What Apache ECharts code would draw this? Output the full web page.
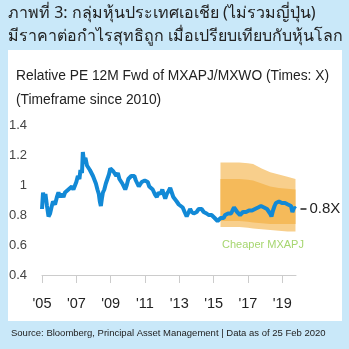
<!DOCTYPE html>
<html><head><meta charset="utf-8">
<script src="https://cdn.jsdelivr.net/npm/echarts@6/dist/echarts.min.js"></script>
<style>html,body{margin:0;padding:0;background:#c9e8f9;}#c{width:349px;height:349px;}</style>
</head><body><div id="c"></div>
<script>
const titleLines = ['ภาพที่ 3: กลุ่มหุ้นประเทศเอเชีย (ไม่รวมญี่ปุ่น)', 'มีราคาต่อกำไรสุทธิถูก เมื่อเปรียบเทียบกับหุ้นโลก'];
const subtitle1 = 'Relative PE 12M Fwd of MXAPJ/MXWO (Times: X)';
const subtitle2 = '(Timeframe since 2010)';
const sourceText = 'Source: Bloomberg, Principal Asset Management | Data as of 25 Feb 2020';
const yTicks = [0.4, 0.6, 0.8, 1.0, 1.2, 1.4];
const xTickYears = [2005, 2007, 2009, 2011, 2013, 2015, 2017, 2019];
const lastLabel = '0.8X';
const bandNote = 'Cheaper MXAPJ';

const years = [2005.0,2005.06,2005.12,2005.2,2005.29,2005.38,2005.47,2005.55,2005.64,2005.76,2005.87,2005.96,
2006.05,2006.16,2006.25,2006.34,2006.45,2006.54,2006.63,2006.74,2006.83,2006.92,
2007.0,2007.09,2007.18,2007.24,2007.33,2007.38,2007.44,2007.53,2007.62,2007.7,2007.79,2007.88,2007.97,
2008.05,2008.14,2008.23,2008.31,2008.37,2008.43,2008.49,2008.55,2008.63,2008.72,2008.81,2008.9,2008.98,
2009.07,2009.16,2009.24,2009.33,2009.42,2009.51,2009.59,2009.68,2009.77,2009.85,2009.94,
2010.03,2010.12,2010.2,2010.29,2010.38,2010.47,2010.55,2010.64,2010.73,2010.81,2010.9,2010.99,
2011.08,2011.16,2011.25,2011.34,2011.45,2011.57,2011.69,2011.8,2011.92,
2012.01,2012.09,2012.18,2012.27,2012.38,2012.47,2012.56,2012.65,2012.73,2012.85,2012.97,
2013.08,2013.2,2013.31,2013.43,2013.55,2013.63,2013.72,2013.84,2013.92,
2014.01,2014.13,2014.22,2014.3,2014.42,2014.51,2014.59,2014.71,2014.8,2014.88,2014.97,
2015.06,2015.15,2015.23,2015.32,2015.41,2015.49,2015.58,2015.67,2015.76,2015.84,2015.93,
2016.02,2016.1,2016.19,2016.28,2016.37,2016.45,2016.54,2016.63,2016.71,2016.8,2016.89,2016.98,
2017.06,2017.15,2017.24,2017.33,2017.41,2017.5,2017.59,2017.67,2017.76,2017.85,2017.94,
2018.02,2018.11,2018.2,2018.29,2018.37,2018.46,2018.55,2018.63,2018.72,2018.81,2018.9,2018.98,
2019.07,2019.16,2019.24,2019.33,2019.42,2019.51,2019.59,2019.68,2019.77];
const relPE = [0.84,0.95,0.91,0.94,0.86,0.79,0.81,0.85,0.89,0.87,0.92,0.95,
0.92,0.94,0.92,0.95,0.94,0.97,0.96,0.99,0.97,0.97,
1.02,1.06,1.04,1.10,1.08,1.22,1.16,1.18,1.13,1.14,1.10,1.11,1.06,
1.07,1.01,0.97,0.94,0.89,0.86,0.91,0.95,0.97,1.01,1.04,1.07,1.11,
1.12,1.09,1.10,1.06,1.08,1.04,1.05,1.01,1.00,0.97,1.00,
1.04,1.03,1.06,1.05,1.06,1.03,1.04,0.99,1.00,1.02,1.01,1.03,
1.04,1.02,0.99,1.00,0.97,0.94,0.92,0.95,0.94,
0.97,0.94,0.91,0.94,0.96,0.98,0.95,0.92,0.91,0.89,0.87,
0.87,0.85,0.82,0.79,0.82,0.84,0.82,0.81,0.80,
0.82,0.84,0.83,0.84,0.82,0.82,0.81,0.80,0.79,0.80,0.80,
0.78,0.77,0.76,0.77,0.78,0.79,0.78,0.80,0.80,0.81,0.82,
0.81,0.83,0.85,0.84,0.82,0.81,0.80,0.81,0.82,0.81,0.82,0.82,
0.83,0.82,0.83,0.83,0.84,0.83,0.85,0.84,0.86,0.87,0.85,
0.86,0.84,0.83,0.81,0.79,0.83,0.86,0.88,0.87,0.89,0.90,0.88,
0.89,0.88,0.88,0.87,0.88,0.86,0.82,0.85,0.84];

const bandYears = [2015.4,2016.0,2016.5,2017.0,2017.3,2017.8,2018.3,2018.8,2019.3,2019.77];
const bandTop = [1.15,1.15,1.15,1.145,1.14,1.11,1.085,1.07,1.055,1.04];
const bandUpperMid = [1.04,1.04,1.04,1.035,1.03,1.01,0.99,0.98,0.975,0.97];
const bandLowerMid = [0.76,0.76,0.76,0.755,0.75,0.745,0.74,0.74,0.74,0.74];
const bandBottom = [0.72,0.72,0.72,0.715,0.71,0.705,0.70,0.695,0.69,0.69];

const chart = echarts.init(document.getElementById('c'), null, {renderer: 'canvas'});
const linePts = years.map((y, i) => [y, relPE[i]]);
const lightBand = '#f8cf8c';
const darkBand = '#f5ba5a';
const lastPt = linePts[linePts.length - 1];
const FONT = '"Liberation Sans", Arial, sans-serif';
const THAI = '"Noto Sans", "DejaVu Sans", sans-serif';
const NARROW = '"Liberation Sans Narrow", "Arial Narrow", "Liberation Sans", sans-serif';

function bandPolygon(api, upper, lower) {
  const pts = [];
  for (let i = 0; i < bandYears.length; i++) pts.push(api.coord([bandYears[i], upper[i]]));
  for (let i = bandYears.length - 1; i >= 0; i--) pts.push(api.coord([bandYears[i], lower[i]]));
  return pts;
}

chart.setOption({
  animation: false,
  backgroundColor: '#c9e8f9',
  graphic: [
    {type: 'rect', shape: {x: 8, y: 50, width: 334, height: 271}, style: {fill: '#ffffff'}, z: -10},
    {type: 'text', left: 8, top: 5, style: {text: titleLines[0], fontSize: 16, fontFamily: THAI, fill: '#222'}},
    {type: 'text', left: 8, top: 28, style: {text: titleLines[1], fontSize: 16, fontFamily: THAI, fill: '#222'}},
    {type: 'text', left: 16, top: 69, style: {text: subtitle1, fontSize: 13.8, fontFamily: FONT, fill: '#222'}},
    {type: 'text', left: 16, top: 93, style: {text: subtitle2, fontSize: 13.8, fontFamily: FONT, fill: '#222'}},
    {type: 'text', left: 11, top: 328, style: {text: sourceText, fontSize: 9.5, fontFamily: NARROW, fill: '#222'}},
    {type: 'text', left: 222, top: 239, style: {text: bandNote, fontSize: 11, fontFamily: FONT, fill: '#a6d66f'}}
  ],
  grid: {left: 42, right: 53, top: 125, bottom: 74, containLabel: false},
  xAxis: {
    type: 'value', min: 2005, max: 2019.8, interval: 2,
    axisLine: {show: true, lineStyle: {color: '#cccccc'}},
    axisTick: {show: true, length: 8, lineStyle: {color: '#cccccc'}},
    splitLine: {show: false},
    axisLabel: {margin: 21, color: '#222', fontSize: 14.5, fontFamily: FONT,
      formatter: v => xTickYears.indexOf(v) >= 0 ? "'" + String(v).slice(2) : '', showMaxLabel: false}
  },
  yAxis: {
    type: 'value', min: yTicks[0], max: yTicks[yTicks.length - 1], interval: 0.2,
    axisLine: {show: false}, axisTick: {show: false}, splitLine: {show: false},
    axisLabel: {margin: 15, color: '#444', fontSize: 13, fontFamily: FONT,
      formatter: v => { const r = Math.round(v * 10) / 10; return r === 1 ? '1' : r.toFixed(1); }}
  },
  series: [
    {
      type: 'custom', name: 'band', silent: true, z: 1,
      data: [[bandYears[0], bandTop[0]]],
      renderItem: (params, api) => ({
        type: 'group',
        children: [
          {type: 'polygon', shape: {points: bandPolygon(api, bandTop, bandBottom)}, style: {fill: lightBand}},
          {type: 'polygon', shape: {points: bandPolygon(api, bandUpperMid, bandLowerMid)}, style: {fill: darkBand}}
        ]
      })
    },
    {
      type: 'line', name: 'Relative PE', data: linePts, symbol: 'none', z: 5,
      lineStyle: {color: '#1289d6', width: 4},
      markPoint: {
        symbol: 'rect', symbolSize: [6, 1.5], symbolOffset: [8, 0], silent: true,
        itemStyle: {color: '#222'},
        label: {show: true, position: 'right', distance: 3, formatter: lastLabel, color: '#222', fontSize: 15, fontFamily: FONT},
        data: [{coord: lastPt}]
      }
    }
  ]
});
</script></body></html>
